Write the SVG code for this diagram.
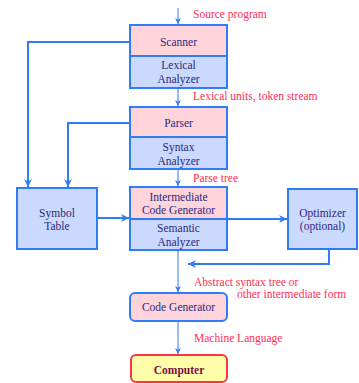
<svg xmlns="http://www.w3.org/2000/svg" width="359" height="383" viewBox="0 0 359 383">
<defs>
<marker id="ah" viewBox="0 0 10 10" refX="10" refY="5" markerWidth="6" markerHeight="6" markerUnits="userSpaceOnUse" orient="auto">
<path d="M0,0 L10,5 L0,10 L3,5 z" fill="#2f7cf6"/>
</marker>
<marker id="ah2" viewBox="0 0 10 10" refX="10" refY="5" markerWidth="4" markerHeight="4" orient="auto">
<path d="M0,0 L10,5 L0,10 L3,5 z" fill="#2f7cf6"/>
</marker>
<style>
.box{stroke:#2f7cf6;stroke-width:2}
.pink{fill:#ffd3da}
.blue{fill:#ccd9ff}
.t{font-family:"Liberation Serif",serif;font-size:11.5px;fill:#2a2a7a;text-anchor:middle}
.lab{font-family:"Liberation Serif",serif;font-size:11.5px;fill:#ff2d55}
.thin{stroke:#2f7cf6;stroke-width:1;fill:none}
.thick{stroke:#2f7cf6;stroke-width:2;fill:none}
</style>
</defs>
<rect width="359" height="383" fill="#ffffff"/>
<g id="connectors">
<line class="thin" x1="178" y1="8" x2="178" y2="24" marker-end="url(#ah)"/>
<line class="thin" x1="178" y1="89" x2="178" y2="106" marker-end="url(#ah)"/>
<line class="thin" x1="178" y1="170" x2="178" y2="186" marker-end="url(#ah)"/>
<line class="thin" x1="178" y1="251" x2="178" y2="292" marker-end="url(#ah)"/>
<line class="thin" x1="178" y1="322" x2="178" y2="354" marker-end="url(#ah)"/>
<polyline class="thick" points="130,42 28,42 28,187" marker-end="url(#ah2)"/>
<polyline class="thick" points="130,123 68,123 68,187" marker-end="url(#ah2)"/>
<line class="thick" x1="98" y1="218" x2="129" y2="218" marker-end="url(#ah2)"/>
<line class="thick" x1="228" y1="219" x2="287" y2="219" marker-end="url(#ah2)"/>
<polyline class="thick" points="329,250 329,264 188,264" marker-end="url(#ah2)"/>
</g>
<g id="labels">
<text class="lab" x="193" y="18">Source program</text>
<text class="lab" x="193" y="100">Lexical units, token stream</text>
<text class="lab" x="193" y="182">Parse tree</text>
<text class="lab" x="194" y="286">Abstract syntax tree or</text>
<text class="lab" x="237" y="298">other intermediate form</text>
<text class="lab" x="194" y="342">Machine Language</text>
</g>
<g id="scanner">
<rect class="box pink" x="130" y="25" width="97" height="31"/>
<rect class="box blue" x="130" y="56" width="97" height="32"/>
<text class="t" x="178.5" y="46">Scanner</text>
<text class="t" x="178.5" y="69">Lexical</text>
<text class="t" x="178.5" y="83">Analyzer</text>
</g>
<g id="parser">
<rect class="box pink" x="130" y="107" width="97" height="30"/>
<rect class="box blue" x="130" y="137" width="97" height="32"/>
<text class="t" x="178.5" y="127">Parser</text>
<text class="t" x="178.5" y="151">Syntax</text>
<text class="t" x="178.5" y="165">Analyzer</text>
</g>
<g id="intermediate">
<rect class="box pink" x="130" y="187" width="97" height="32"/>
<rect class="box blue" x="130" y="219" width="97" height="31"/>
<text class="t" x="178.5" y="201">Intermediate</text>
<text class="t" x="178.5" y="214">Code Generator</text>
<text class="t" x="178.5" y="232">Semantic</text>
<text class="t" x="178.5" y="246">Analyzer</text>
</g>
<g id="symboltable">
<rect class="box blue" x="17" y="188" width="80" height="61"/>
<text class="t" x="57" y="217">Symbol</text>
<text class="t" x="57" y="230">Table</text>
</g>
<g id="optimizer">
<rect class="box blue" x="288" y="189" width="69" height="60"/>
<text class="t" x="322.5" y="217">Optimizer</text>
<text class="t" x="322.5" y="230">(optional)</text>
</g>
<g id="codegen">
<rect class="box pink" x="130" y="293" width="97" height="28" rx="5"/>
<text class="t" x="178.5" y="311">Code Generator</text>
</g>
<g id="computer">
<rect x="131" y="355" width="96" height="27" rx="5" fill="#ffffaa" stroke="#ff3344" stroke-width="2"/>
<text x="179" y="374" style="font-family:'Liberation Serif',serif;font-size:11.5px;font-weight:bold;fill:#7a1040;text-anchor:middle">Computer</text>
</g>
</svg>
